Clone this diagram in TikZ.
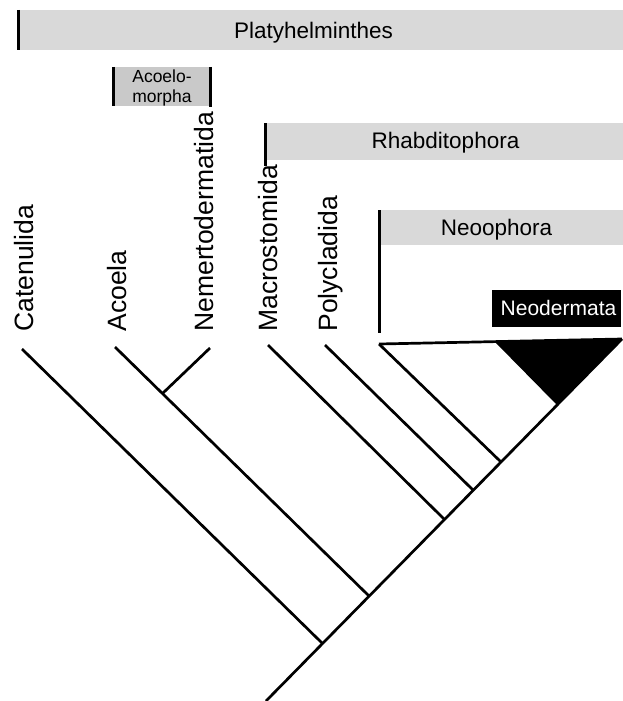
\documentclass[tikz,border=0pt]{standalone}
\usepackage{fontspec}
\setmainfont{Liberation Sans}
\definecolor{bargray}{gray}{0.85}
\definecolor{boxgray}{gray}{0.79}

\begin{document}
\begin{tikzpicture}[x=1pt, y=-1pt, line width=2.7pt,
  taxon/.style={rotate=90, anchor=base west, inner sep=0pt, font=\fontsize{26.5}{30}\selectfont},
  clade/.style={anchor=base, inner sep=0pt, font=\fontsize{22.5}{26}\selectfont},
  edge/.style={line width=3pt}]
\useasboundingbox (0,0) rectangle (623,701);

% clade bars
\fill[bargray] (18,10) rectangle (623,50);
\draw[edge] (18,10) -- (18,50);
\node[clade] (platy) at (313.5,38) {Platyhelminthes};

\fill[boxgray] (113,67) rectangle (210,106);
\draw[edge] (113,67) -- (113,106);
\draw[edge] (210,67) -- (210,107);
\node[clade, font=\fontsize{17.5}{20}\selectfont] (acoeloA) at (162,82) {Acoelo-};
\node[clade, font=\fontsize{17.5}{20}\selectfont] (acoeloB) at (162,102) {morpha};

\fill[bargray] (265,123) rectangle (623,160);
\draw[edge] (265,123) -- (265,166);
\node[clade] (rhabdi) at (445.5,148) {Rhabditophora};

\fill[bargray] (379,210) rectangle (623,245);
\draw[edge] (379,210) -- (379,333);
\node[clade] (neooph) at (496.5,235) {Neoophora};

\fill[black] (492,290) rectangle (621,327);
\node[clade, white, font=\fontsize{21}{24}\selectfont] (neoder) at (558.5,315) {Neodermata};

% taxa
\node[taxon] (catenu) at (33,333) {Catenulida};
\node[taxon] (acoela) at (126,333) {Acoela};
\node[taxon] (nemert) at (213,333) {Nemertodermatida};
\node[taxon] (macros) at (277,333) {Macrostomida};
\node[taxon] (polycl) at (337,333) {Polycladida};

% tree
\coordinate (root) at (266,701);
\coordinate (apex) at (622,339);
\coordinate (nCat) at (322,643);
\coordinate (nAco) at (369,596);
\coordinate (nNem) at (163,393);
\coordinate (nMac) at (444,519);
\coordinate (nPol) at (473,490);
\coordinate (nNeo) at (501,462);
\coordinate (nDer) at (557,405);
\coordinate (tCat) at (22,349);
\coordinate (tAco) at (115,347);
\coordinate (tNem) at (210,348);
\coordinate (tMac) at (268,345);
\coordinate (tPol) at (325,345);
\coordinate (tNeo) at (379,344);
\coordinate (tDer) at (495,342);

\fill[black] (tDer) -- (apex) -- (nDer) -- cycle;
\draw (root) -- (apex);
\draw (tCat) -- (nCat);
\draw (tAco) -- (nAco);
\draw (tNem) -- (nNem);
\draw (tMac) -- (nMac);
\draw (tPol) -- (nPol);
\draw (tNeo) -- (nNeo);
\draw (tNeo) -- (apex);
\end{tikzpicture}
\end{document}
